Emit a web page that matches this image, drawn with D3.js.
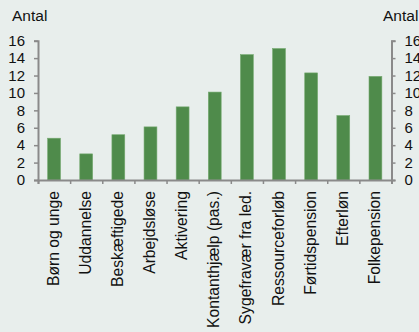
<!DOCTYPE html>
<html>
<head>
<meta charset="utf-8">
<script src="https://cdn.jsdelivr.net/npm/d3@7"></script>
<style>
  body { margin: 0; background: #e8eeec; }
  svg { display: block; font-family: "Liberation Sans", Arial, sans-serif; }
</style>
</head>
<body>
<div class="chart"></div>
<script>
var categories = ["Børn og unge", "Uddannelse", "Beskæftigede", "Arbejdsløse", "Aktivering",
    "Kontanthjælp (pas.)", "Sygefravær fra led.", "Ressourceforløb", "Førtidspension",
    "Efterløn", "Folkepension"];
var values = [4.8, 3.0, 5.2, 6.1, 8.4, 10.1, 14.4, 15.1, 12.3, 7.4, 11.9];
var yTicks = [0, 2, 4, 6, 8, 10, 12, 14, 16];
var unitLabel = "Antal";

var w = 419, h = 332;
var mLeft = 38, mRight = 391.5, mTop = 40.7, mBottom = 180;

var svg = d3.select(".chart").append("svg")
    .attr("width", w)
    .attr("height", h);

svg.append("rect").attr("width", w).attr("height", h).attr("fill", "#e8eeec");

var x_scale = d3.scaleBand().domain(categories).range([mLeft, mRight]).paddingInner(0.6).paddingOuter(0.3);
var y_scale = d3.scaleLinear().domain([0, 16]).range([mBottom, mTop]);

// bars
svg.append("g").selectAll("rect")
    .data(values)
    .enter().append("rect")
    .attr("x", function(d, i) { return x_scale(categories[i]); })
    .attr("y", function(d) { return y_scale(d); })
    .attr("width", x_scale.bandwidth())
    .attr("height", function(d) { return y_scale(0) - y_scale(d); })
    .attr("fill", "#4f8b4b")
    .attr("stroke", "#74a96f")
    .attr("stroke-width", 0.6);

var axisColor = "#8a8a8a";

var leftAxis = d3.axisLeft(y_scale).tickValues(yTicks).tickSize(4).tickPadding(6);
var rightAxis = d3.axisRight(y_scale).tickValues(yTicks).tickSize(4).tickPadding(6);

function styleAxis(g) {
    g.select(".domain").attr("stroke", axisColor).attr("stroke-width", 2);
    g.selectAll(".tick line").attr("stroke", axisColor).attr("stroke-width", 1.5);
    g.selectAll(".tick text").attr("fill", "#111").attr("font-size", 15)
        .attr("font-family", "Liberation Sans, Arial, sans-serif");
}

svg.append("g").attr("transform", "translate(" + mLeft + ",0)").call(leftAxis).call(styleAxis)
    .selectAll(".tick text").attr("x", -13);
svg.append("g").attr("transform", "translate(" + mRight + ",0)").call(rightAxis).call(styleAxis)
    .selectAll(".tick text").attr("x", 13);

// bottom axis with ticks between categories
var bx = d3.scaleLinear().domain([0, categories.length]).range([mLeft, mRight]);
var bottomAxis = d3.axisBottom(bx).tickValues(d3.range(0, categories.length + 1)).tickSize(4).tickFormat("");
svg.append("g").attr("transform", "translate(0," + mBottom + ")").call(bottomAxis).call(styleAxis);

// category labels
svg.append("g").selectAll("text")
    .data(categories)
    .enter().append("text")
    .attr("transform", function(d) {
        return "translate(" + (x_scale(d) + x_scale.bandwidth() / 2 + 4.5) + "," + (mBottom + 11) + ") rotate(-90)";
    })
    .attr("text-anchor", "end")
    .attr("font-size", 15.7)
    .attr("fill", "#111")
    .text(function(d) { return d; });

svg.append("text").attr("x", 12).attr("y", 21).attr("font-size", 15.5).attr("fill", "#111").text(unitLabel);
svg.append("text").attr("x", 383).attr("y", 21).attr("font-size", 15.5).attr("fill", "#111").text(unitLabel);
</script>
</body>
</html>
